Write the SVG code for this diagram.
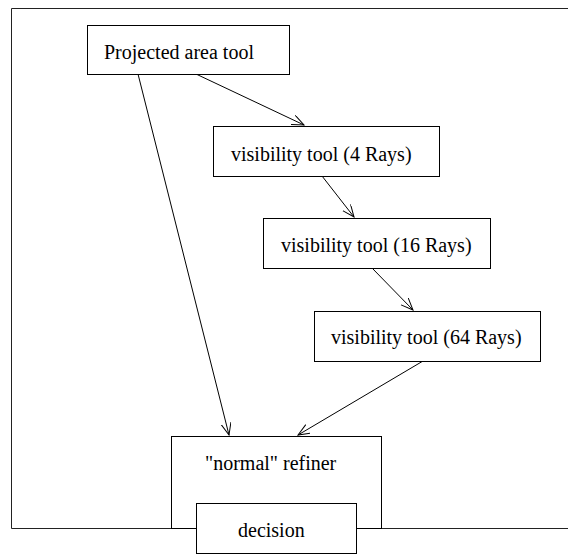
<svg xmlns="http://www.w3.org/2000/svg" width="568" height="554" viewBox="0 0 568 554">
<style>
.box{fill:#fff;stroke:#000;stroke-width:1}
.lbl{font-family:"Liberation Serif","Times New Roman",serif;font-size:20px;fill:#000}
.edge{stroke:#000;stroke-width:1;fill:none;marker-end:url(#arr)}
</style>
<defs>
<marker id="arr" markerUnits="userSpaceOnUse" markerWidth="14" markerHeight="12" refX="12" refY="5" orient="auto">
<path d="M0,0 L12,5 L0,10" fill="none" stroke="#000" stroke-width="1"/>
</marker>
</defs>
<rect width="568" height="554" fill="#fff"/>
<path d="M568,8.5 H11.5 V528.5 H568" fill="none" stroke="#222" stroke-width="1"/>
<g id="connectors">
<line class="edge" x1="196" y1="74" x2="304" y2="125"/>
<line class="edge" x1="138" y1="74" x2="229" y2="435"/>
<line class="edge" x1="322" y1="176" x2="354" y2="217"/>
<line class="edge" x1="372" y1="268" x2="413" y2="310"/>
<line class="edge" x1="423" y1="361" x2="298" y2="435"/>
</g>
<g id="n_projected">
<rect class="box" x="87.5" y="25.5" width="202" height="49"/>
<text class="lbl" x="104" y="59">Projected area tool</text>
</g>
<g id="n_vis4">
<rect class="box" x="213.5" y="126.5" width="226" height="50"/>
<text class="lbl" x="231" y="161">visibility tool (4 Rays)</text>
</g>
<g id="n_vis16">
<rect class="box" x="263.5" y="218.5" width="227" height="50"/>
<text class="lbl" x="281" y="252">visibility tool (16 Rays)</text>
</g>
<g id="n_vis64">
<rect class="box" x="314.5" y="311.5" width="226" height="50"/>
<text class="lbl" x="331" y="344">visibility tool (64 Rays)</text>
</g>
<g id="n_refiner">
<rect class="box" x="171.5" y="436.5" width="210" height="92"/>
<text class="lbl" x="205" y="470">"normal" refiner</text>
</g>
<g id="n_decision">
<rect class="box" x="196.5" y="503.5" width="160" height="50"/>
<text class="lbl" x="238" y="537">decision</text>
</g>
</svg>
